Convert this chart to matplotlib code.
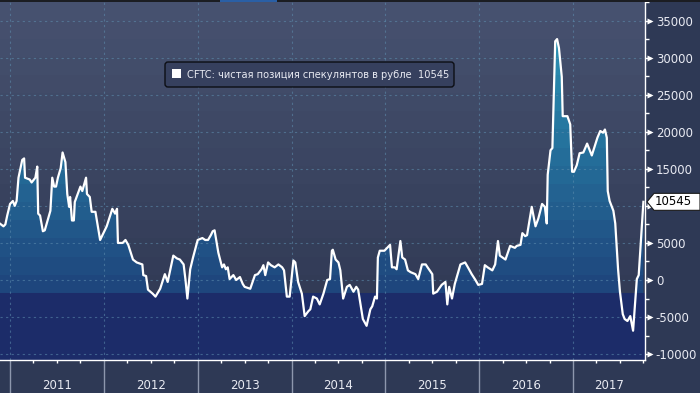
import matplotlib
matplotlib.use("Agg")
import matplotlib.pyplot as plt
import matplotlib.transforms as mtransforms
from matplotlib.patches import Rectangle, FancyBboxPatch, Polygon
from matplotlib.colors import to_rgb
import numpy as np

# weekly CFTC net speculative position in RUB
dates = [2010.89, 2010.93, 2010.95, 2010.97, 2011.00, 2011.03, 2011.05, 2011.07, 2011.09, 2011.13,
         2011.15, 2011.16, 2011.21, 2011.23, 2011.27, 2011.29, 2011.30, 2011.32, 2011.35, 2011.37,
         2011.43, 2011.45, 2011.47, 2011.49, 2011.51, 2011.54, 2011.56, 2011.59, 2011.61, 2011.63,
         2011.64, 2011.66, 2011.68, 2011.69, 2011.75, 2011.77, 2011.81, 2011.82, 2011.85, 2011.87,
         2011.91, 2011.96, 2012.03, 2012.09, 2012.12, 2012.14, 2012.15, 2012.20, 2012.23, 2012.26,
         2012.31, 2012.35, 2012.41, 2012.42, 2012.45, 2012.47, 2012.52, 2012.55, 2012.60, 2012.65,
         2012.68, 2012.74, 2012.78, 2012.81, 2012.85, 2012.87, 2012.89, 2012.92, 2012.95, 2013.00,
         2013.05, 2013.08, 2013.11, 2013.14, 2013.16, 2013.18, 2013.22, 2013.26, 2013.28, 2013.30,
         2013.32, 2013.34, 2013.38, 2013.41, 2013.45, 2013.48, 2013.50, 2013.56, 2013.61, 2013.64,
         2013.68, 2013.70, 2013.72, 2013.75, 2013.78, 2013.82, 2013.86, 2013.90, 2013.92, 2013.95,
         2013.98, 2014.02, 2014.04, 2014.07, 2014.11, 2014.14, 2014.18, 2014.20, 2014.23, 2014.27,
         2014.30, 2014.34, 2014.38, 2014.41, 2014.43, 2014.44, 2014.47, 2014.50, 2014.52, 2014.55,
         2014.59, 2014.62, 2014.66, 2014.69, 2014.71, 2014.76, 2014.80, 2014.84, 2014.86, 2014.89,
         2014.91, 2014.92, 2014.94, 2014.99, 2015.05, 2015.07, 2015.10, 2015.12, 2015.16, 2015.18,
         2015.21, 2015.24, 2015.27, 2015.32, 2015.35, 2015.39, 2015.43, 2015.45, 2015.50, 2015.51,
         2015.55, 2015.60, 2015.64, 2015.66, 2015.68, 2015.71, 2015.74, 2015.80, 2015.85, 2015.88,
         2015.92, 2015.96, 2015.99, 2016.03, 2016.06, 2016.09, 2016.14, 2016.17, 2016.20, 2016.22,
         2016.25, 2016.28, 2016.33, 2016.38, 2016.40, 2016.44, 2016.46, 2016.49, 2016.51, 2016.54,
         2016.56, 2016.60, 2016.63, 2016.67, 2016.70, 2016.72, 2016.73, 2016.76, 2016.78, 2016.81,
         2016.83, 2016.85, 2016.88, 2016.89, 2016.94, 2016.97, 2016.99, 2017.01, 2017.04, 2017.07,
         2017.11, 2017.15, 2017.20, 2017.26, 2017.29, 2017.32, 2017.34, 2017.36, 2017.37, 2017.39,
         2017.43, 2017.45, 2017.48, 2017.50, 2017.53, 2017.55, 2017.58, 2017.61, 2017.64, 2017.68,
         2017.70, 2017.75]
values = [7630, 7240, 7500, 8700, 10260, 10660, 10000, 10660, 13800, 16200,
          16400, 13800, 13550, 13160, 13800, 15300, 8950, 8700, 6580, 6700,
          9340, 13800, 12600, 12600, 13800, 15100, 17200, 15900, 11600, 9870,
          11200, 8030, 8030, 10530, 12600, 12000, 13800, 11600, 11200, 9200,
          9200, 5400, 7240, 9600, 8950, 9600, 5000, 5000, 5400, 4740,
          2760, 2370, 2100, 660, 530, -1300, -1840, -2240, -1180, 790,
          -260, 3290, 2900, 2760, 2100, 0, -2500, 1450, 3030, 5400,
          5660, 5400, 5400, 6050, 6580, 6700, 3680, 1710, 2100, 1450,
          1710, 130, 660, 0, 400, -530, -920, -1180, 660, 790,
          1450, 2000, 660, 2370, 2000, 1710, 2100, 1710, 1300, -2240,
          -2240, 2630, 2370, -260, -1840, -4870, -4200, -3950, -2240, -2500,
          -3290, -1840, 0, 130, 3950, 4080, 2760, 2370, 1300, -2500,
          -920, -660, -1580, -920, -1300, -5260, -6180, -3950, -3550, -2240,
          -2500, 3030, 3950, 3950, 4740, 1710, 1710, 1450, 5260, 3030,
          2760, 1300, 1050, 790, 130, 2100, 2100, 1710, 790, -1840,
          -1580, -660, -260, -3290, -920, -2500, -530, 2100, 2370, 1710,
          790, 0, -660, -530, 2000, 1710, 1300, 2100, 5260, 3290,
          3030, 2760, 4600, 4340, 4600, 4740, 6320, 5920, 6050, 8290,
          9870, 7240, 8290, 10260, 9870, 7630, 14200, 17500, 17800, 32200,
          32500, 31300, 27400, 22100, 22100, 21000, 14600, 14600, 15500, 17100,
          17200, 18400, 16800, 19200, 20100, 19870, 20300, 19200, 12000, 10660,
          9340, 7630, 1450, -1580, -4600, -5260, -5530, -4870, -6840, 130,
          660, 10545]
last_value = 10545
legend_label = "CFTC: чистая позиция спекулянтов в рубле  10545"
years = [2011, 2012, 2013, 2014, 2015, 2016, 2017]
y_ticks = [-10000, -5000, 0, 5000, 10000, 15000, 20000, 25000, 30000, 35000]
# the 10000 label sits under the last-value tag, so it is not shown
y_labels = ["-10000", "-5000", "0", "5000", "", "15000", "20000", "25000", "30000", "35000"]

W, H = 700, 393
pix = mtransforms.IdentityTransform()

fig = plt.figure(figsize=(7, 3.93), dpi=100, facecolor="#2e3955")
ax = fig.add_axes([0, 33 / H, 645 / W, 358 / H])
x0, x1 = 2010.893, 2017.767
y0, y1 = -10790, 36300
ax.set_xlim(x0, x1)
ax.set_ylim(y0, y1)

base = -1750
step = 2450


def mix(c1, c2, f):
    a, b = np.array(to_rgb(c1)), np.array(to_rgb(c2))
    return tuple(a + (b - a) * f)


# banded background above the area
lo = base
while lo < y1:
    f = (lo + step / 2 - base) / (y1 - base)
    ax.axhspan(lo, lo + step, color=mix("#313a55", "#46516f", f), lw=0, zorder=0)
    lo += step

# banded teal area under the line
nb = int(np.ceil((y1 - base) / step))
rows = []
for k in range(nb):
    f = min(1.0, (k * step + step / 2) / (33000 - base))
    rows.append(mix("#1e447b", "#2b93b4", f))
img = np.array(rows).reshape(nb, 1, 3)
im = ax.imshow(img, extent=(x0, x1, base, base + nb * step), origin="lower",
               aspect="auto", interpolation="nearest", zorder=1)
poly = ax.fill_between(dates, base, values, facecolor="none", edgecolor="none")
im.set_clip_path(poly.get_paths()[0], transform=ax.transData)
ax.set_ylim(y0, y1)

ax.axhspan(y0, base, color="#1c2c69", lw=0, zorder=1.5)

# dashed grid
for v in y_ticks:
    ax.axhline(v, color="#5f8fb0", alpha=0.55, lw=0.8, ls=(0, (2, 3)), zorder=2)
for yr in years:
    ax.axvline(yr, color="#5f8fb0", alpha=0.55, lw=0.8, ls=(0, (2, 3)), zorder=2)

ax.plot(dates, values, color="white", lw=1.6, zorder=4, solid_joinstyle="round")

# spines
for s in ["left", "top"]:
    ax.spines[s].set_visible(False)
for s in ["bottom", "right"]:
    ax.spines[s].set_color("white")
    ax.spines[s].set_linewidth(1)

# y axis on the right
ax.yaxis.tick_right()
ax.set_yticks(y_ticks)
ax.set_yticklabels(y_labels)
ax.set_yticks([v + 2500 for v in y_ticks], minor=True)
ax.tick_params(axis="y", which="major", length=4.3, width=1, color="white",
               labelcolor="#e8eaf2", labelsize=8.5, pad=3.5)
ax.tick_params(axis="y", which="minor", length=3, width=1, color="white")
tr = mtransforms.blended_transform_factory(ax.transAxes, ax.transData)
tr = mtransforms.offset_copy(tr, fig=fig, x=5, y=0, units="dots")
ax.plot([1.0] * len(y_ticks), y_ticks, ls="none", marker=">", ms=5,
        color="white", mec="none", transform=tr, clip_on=False, zorder=5)

# x axis: year separators and quarterly ticks
ax.set_xticks(years)
ax.set_xticklabels([])
quarters = [q for q in np.arange(2011.0, 2017.76, 0.25) if q not in years]
ax.set_xticks(quarters, minor=True)
ax.tick_params(axis="x", which="major", length=23.8, width=1, color="#8d97ad")
ax.tick_params(axis="x", which="minor", length=2.3, width=1, color="white")
xt = mtransforms.blended_transform_factory(ax.transData, ax.transAxes)
for yr in years:
    cx = yr + 0.5 if yr + 1 <= x1 else (yr + x1) / 2
    ax.text(cx, -0.07, str(yr), transform=xt, ha="center", va="center",
            color="#e8eaf2", fontsize=8.5, clip_on=False)

# legend box
fig.add_artist(FancyBboxPatch((165, H - 87), 289, 25,
                              boxstyle="round,pad=0,rounding_size=3",
                              fc="#36405e", ec="#0c0e14", lw=1, transform=pix))
fig.add_artist(Rectangle((172, H - 78), 9, 9, fc="white", ec="none", transform=pix))
fig.text(187, H - 74.5, legend_label, transform=pix, color="#e8eaf2",
         fontsize=7.1, va="center", ha="left")

# last value tag
yc = ax.transData.transform((x1, last_value))[1]
fig.add_artist(Polygon([(647, yc), (654, yc + 8.5), (700, yc + 8.5),
                        (700, yc - 8.5), (654, yc - 8.5)], closed=True,
                       fc="white", ec="#1a1a1a", lw=0.8, transform=pix))
fig.text(655, yc, str(last_value), transform=pix, color="black",
         fontsize=8.5, va="center", ha="left")

# thin toolbar strip at the top
fig.add_artist(Rectangle((0, H - 2), W, 2, fc="#1b1d22", ec="none", transform=pix))
fig.add_artist(Rectangle((220, H - 2), 57, 2, fc="#2a5fa5", ec="none", transform=pix))

fig.savefig("out.png", dpi=100, facecolor=fig.get_facecolor())
